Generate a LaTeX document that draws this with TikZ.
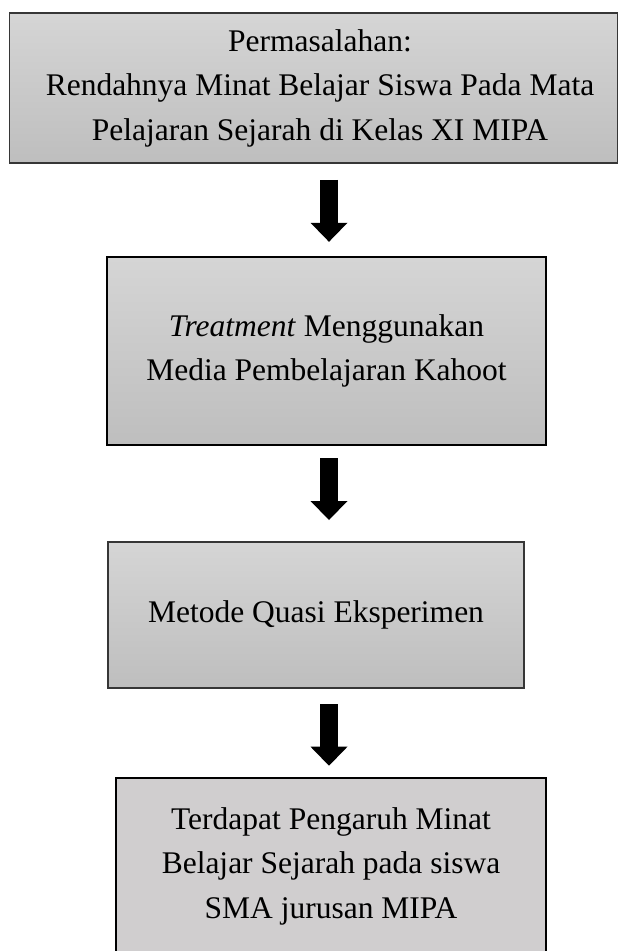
\documentclass[tikz,border=0pt]{standalone}
\usepackage{fontspec}
\setmainfont{Liberation Serif}
\usetikzlibrary{arrows.meta}
\definecolor{gtop}{HTML}{D5D5D5}
\definecolor{gbot}{HTML}{BEBEBE}
\definecolor{flatgray}{HTML}{D0CECF}
\definecolor{edgegray}{HTML}{363636}
\begin{document}
\begin{tikzpicture}[x=1pt,y=-1pt,
  box/.style={draw, rectangle, inner sep=0pt, align=center,
    font=\fontsize{31.5}{44.5}\selectfont, top color=gtop, bottom color=gbot},
  flow/.style={line width=18pt, draw=black,
    -{Triangle[width=37pt,length=19pt,line width=0pt]}}]
\clip (0,0) rectangle (619,951);
\fill[white] (0,0) rectangle (619,951);

\node[box, draw=edgegray, line width=1.8pt, minimum width=608pt, minimum height=150pt] (b1) at (313.5,88)
  {\hspace*{13pt}Permasalahan:\\\hspace*{13pt}Rendahnya Minat Belajar Siswa Pada Mata\\\hspace*{13pt}Pelajaran Sejarah di Kelas XI MIPA};
\node[box, draw=black, line width=2.4pt, minimum width=439pt, minimum height=188pt] (b2) at (326.5,351)
  {\textit{Treatment} Menggunakan\\Media Pembelajaran Kahoot};
\node[box, draw=edgegray, line width=2pt, minimum width=416pt, minimum height=146pt] (b3) at (316,615)
  {Metode Quasi Eksperimen};
\node[box, draw=black, line width=2.6pt, top color=flatgray, bottom color=flatgray, minimum width=430pt, minimum height=176pt] (b4) at (331,866)
  {Terdapat Pengaruh Minat\\Belajar Sejarah pada siswa\\SMA jurusan MIPA};

\draw[flow, shorten <=16pt, shorten >=14pt] (b1.south -| 329,0) -- (b2.north -| 329,0);
\draw[flow, shorten <=12pt, shorten >=21pt] (b2.south -| 329,0) -- (b3.north -| 329,0);
\draw[flow, shorten <=15pt, shorten >=11pt] (b3.south -| 329,0) -- (b4.north -| 329,0);
\end{tikzpicture}
\end{document}
